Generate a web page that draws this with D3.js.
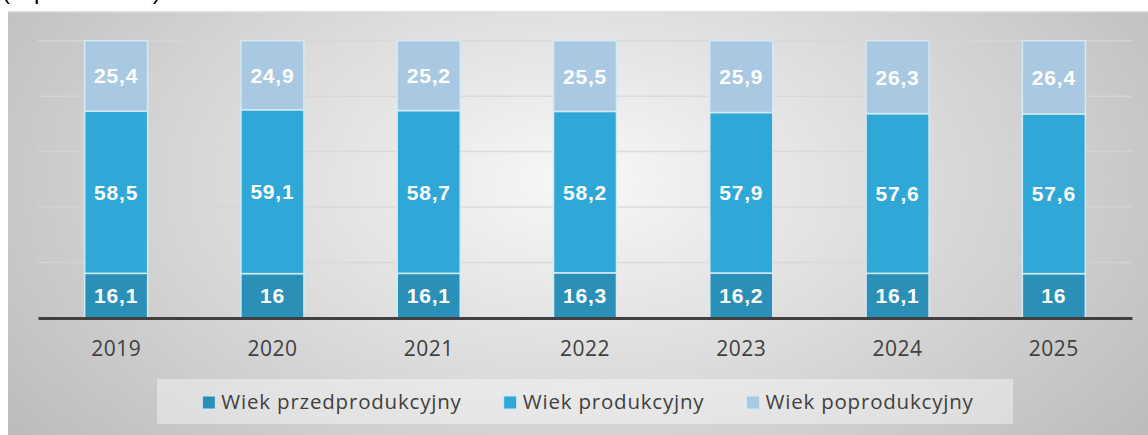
<!DOCTYPE html>
<html>
<head>
<meta charset="utf-8">
<script src="https://cdn.jsdelivr.net/npm/d3@7"></script>
<style>
  html, body { margin: 0; padding: 0; background: #fff; }
  svg { display: block; }
</style>
</head>
<body>
<div id="chart"></div>
<script>
const years = ['2019', '2020', '2021', '2022', '2023', '2024', '2025']
const seriesNames = ['Wiek przedprodukcyjny', 'Wiek produkcyjny', 'Wiek poprodukcyjny']
const przedprodukcyjny = [16.1, 16, 16.1, 16.3, 16.2, 16.1, 16]
const produkcyjny = [58.5, 59.1, 58.7, 58.2, 57.9, 57.6, 57.6]
const poprodukcyjny = [25.4, 24.9, 25.2, 25.5, 25.9, 26.3, 26.4]
const yTicks = [0, 20, 40, 60, 80, 100]

const colors = ['#2a90b8', '#2fa8d8', '#a9c9e3']
const width = 1148
const height = 435
const plot = { left: 38, right: 1132, top: 40.7, bottom: 318 }

const fmt = v => String(v).replace('.', ',')

const rows = years.map((y, i) => ({
  year: y,
  [seriesNames[0]]: przedprodukcyjny[i],
  [seriesNames[1]]: produkcyjny[i],
  [seriesNames[2]]: poprodukcyjny[i]
}))
const stacked = d3.stack().keys(seriesNames)(rows)

const svg = d3.select('#chart')
  .append('svg')
  .attr('width', width)
  .attr('height', height)

// background panel gradient
const grad = svg.append('defs')
  .append('radialGradient')
  .attr('id', 'bg')
  .attr('cx', '50%').attr('cy', '40%')
  .attr('r', '62%')
  .attr('gradientTransform', 'translate(0.5,0.4) scale(1,1.6) translate(-0.5,-0.4)')
grad.append('stop').attr('offset', '0%').attr('stop-color', '#f8f8f8')
grad.append('stop').attr('offset', '100%').attr('stop-color', '#bcbcbc')

// title sits above the panel, mostly cut off by the top edge (as in the source)
svg.append('text')
  .attr('x', 2)
  .attr('y', -1)
  .attr('font-family', 'Liberation Sans, Arial, sans-serif')
  .attr('font-size', 24)
  .attr('fill', '#000')
  .text('(w procentach)')

svg.append('rect')
  .attr('x', 8).attr('y', 11)
  .attr('width', width - 8).attr('height', height - 11)
  .attr('fill', 'url(#bg)')
svg.append('line')
  .attr('x1', 8).attr('x2', width)
  .attr('y1', 11.5).attr('y2', 11.5)
  .attr('stroke', '#e4e4e4')
  .attr('stroke-width', 1.5)

const xScale = d3.scaleBand()
  .domain(years)
  .range([plot.left, plot.right])
  .paddingInner(0.597)
  .paddingOuter(0.2985)

const yScale = d3.scaleLinear()
  .domain([0, 100])
  .range([plot.bottom, plot.top])

// gridlines
svg.append('g')
  .selectAll('line')
  .data(yTicks.slice(1))
  .join('line')
  .attr('x1', plot.left).attr('x2', plot.right)
  .attr('y1', d => yScale(d)).attr('y2', d => yScale(d))
  .attr('stroke', '#d6d6d6')
  .attr('stroke-opacity', 0.8)
  .attr('stroke-width', 1.5)

// bars
const layers = svg.append('g')
  .selectAll('g')
  .data(stacked)
  .join('g')
  .attr('fill', (d, i) => colors[i])

layers.selectAll('rect')
  .data(d => d)
  .join('rect')
  .attr('x', d => xScale(d.data.year))
  .attr('width', xScale.bandwidth())
  .attr('y', d => yScale(d[1]))
  .attr('height', d => yScale(d[0]) - yScale(d[1]))
  .attr('stroke', '#d3e9f4')
  .attr('stroke-width', 1.5)

// value labels
layers.selectAll('text')
  .data((d, i) => d.map(p => ({ p, key: seriesNames[i] })))
  .join('text')
  .attr('x', d => xScale(d.p.data.year) + xScale.bandwidth() / 2)
  .attr('y', d => (yScale(d.p[0]) + yScale(d.p[1])) / 2)
  .attr('dy', '0.36em')
  .attr('text-anchor', 'middle')
  .attr('font-family', 'Liberation Sans, Arial, sans-serif')
  .attr('font-weight', 'bold')
  .attr('font-size', 21)
  .attr('letter-spacing', 0.8)
  .attr('fill', '#fff')
  .text(d => fmt(d.p.data[d.key]))

// x axis
const xAxis = d3.axisBottom(xScale).tickSize(0).tickPadding(0)
const xAxisG = svg.append('g')
  .attr('transform', `translate(0, ${plot.bottom})`)
  .call(xAxis)
xAxisG.select('.domain')
  .attr('stroke', '#404040')
  .attr('stroke-width', 3)
xAxisG.selectAll('text')
  .attr('y', 38)
  .attr('dy', 0)
  .attr('font-family', 'Open Sans, sans-serif')
  .attr('font-size', 21)
  .attr('letter-spacing', 0.5)
  .attr('fill', '#404040')

// legend
const legendBox = { x: 157, y: 379, w: 856, h: 45 }
const legend = svg.append('g')
legend.append('rect')
  .attr('x', legendBox.x).attr('y', legendBox.y)
  .attr('width', legendBox.w).attr('height', legendBox.h)
  .attr('fill', '#fff')
  .attr('fill-opacity', 0.4)

const items = legend.selectAll('g')
  .data(seriesNames)
  .join('g')
items.append('rect')
  .attr('width', 13).attr('height', 13)
  .attr('y', 396)
  .attr('fill', (d, i) => colors[i])
  .attr('stroke', '#d3e9f4')
  .attr('stroke-width', 1)
items.append('text')
  .attr('x', 19)
  .attr('y', 409)
  .attr('font-family', 'Open Sans, sans-serif')
  .attr('font-size', 20.5)
  .attr('letter-spacing', 0.8)
  .attr('fill', '#404040')
  .text(d => d)

const gap = 42
const widths = items.nodes().map(n => 19 + n.querySelector('text').getComputedTextLength())
const total = d3.sum(widths) + gap * (widths.length - 1)
let cursor = legendBox.x + legendBox.w / 2 - total / 2 + 3
items.each(function (d, i) {
  d3.select(this).attr('transform', `translate(${cursor}, 0)`)
  cursor += widths[i] + gap
})
</script>
</body>
</html>
